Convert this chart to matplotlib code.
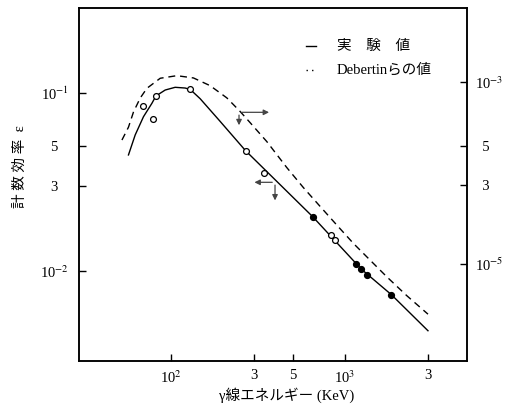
import matplotlib
matplotlib.use("Agg")
import matplotlib.pyplot as plt

plt.rcParams['font.family'] = ['Liberation Serif', 'Noto Sans CJK JP', 'DejaVu Sans']
plt.rcParams['mathtext.fontset'] = 'stix'

# 実験値 (solid curve, left axis)
exp_E = [56.8, 62.1, 69.3, 77.5, 81.7, 92.4, 105.4, 120.4, 129.1, 146.8, 190, 268, 652, 1241, 1849, 3000]
exp_eff = [0.0447, 0.0579, 0.0733, 0.0872, 0.0958, 0.1035, 0.1072, 0.1062, 0.1040, 0.0925, 0.0695,
           0.0472, 0.0201, 0.0102, 0.00733, 0.0046]

# Debertinらの値 (dashed curve, right axis)
deb_E = [52.1, 56.8, 60.7, 66.4, 72.5, 86.5, 107.8, 134.3, 167.5, 209, 249, 284, 355, 462, 576,
         718, 896, 1116, 1392, 1737, 2262, 3000]
deb_eff = [0.0542, 0.0640, 0.0779, 0.0934, 0.1058, 0.1205, 0.1246, 0.1210, 0.1095, 0.0935, 0.0785,
           0.0680, 0.0531, 0.0380, 0.0293, 0.0230, 0.01806, 0.01425, 0.01148, 0.00925, 0.00725, 0.0057]

# 測定点
open_E = [68.8, 78.1, 81.6, 129, 268, 342, 828, 880]
open_eff = [0.0842, 0.0709, 0.0958, 0.1045, 0.0472, 0.0355, 0.0158, 0.01486]
fill_E = [652, 1157, 1241, 1333, 1849]
fill_eff = [0.0201, 0.01086, 0.01018, 0.0095, 0.00733]

x_ticks = [100, 300, 500, 1000, 3000]
x_labels = ['10$^2$', '3', '5', '10$^3$', '3']
left_ticks = [0.1, 0.05, 0.03, 0.01]
left_labels = ['10$^{-1}$', '5   ', '3   ', '10$^{-2}$']
right_ticks = [0.1144, 0.0504, 0.0302, 0.0109]
right_labels = ['10$^{-3}$', '  5', '  3', '10$^{-5}$']

fig = plt.figure(figsize=(5.08, 4.16), dpi=100)
ax = fig.add_axes([79 / 508, 55 / 416, 388 / 508, 353 / 416])

ax.plot(exp_E, exp_eff, color='black', lw=1.0)
ax.plot(deb_E, deb_eff, color='black', lw=1.0, linestyle=(0, (5, 3.5)))
ax.plot(open_E, open_eff, 'o', ms=4.2, mfc='white', mec='black', mew=0.9)
ax.plot(fill_E, fill_eff, 'o', ms=4.2, mfc='black', mec='black')

ax.set_xscale('log')
ax.set_yscale('log')
ax.set_xlim(29.5, 5030)
ax.set_ylim(0.00311, 0.299)
ax.minorticks_off()

ax.set_xticks(x_ticks)
ax.set_xticklabels(x_labels)
ax.set_yticks(left_ticks)
ax.set_yticklabels(left_labels)
ax.tick_params(direction='in', length=5, width=1, labelsize=10.5, pad=7)
ax.tick_params(axis='x', pad=6)

ax2 = ax.twinx()
ax2.set_yscale('log')
ax2.set_ylim(ax.get_ylim())
ax2.minorticks_off()
ax2.set_yticks(right_ticks)
ax2.set_yticklabels(right_labels)
ax2.tick_params(direction='in', length=5, width=1, labelsize=10.5, pad=6)

for a in (ax, ax2):
    for s in a.spines.values():
        s.set_linewidth(1.1)

# 軸を示す矢印
akw = dict(arrowstyle='-|>', color='#444444', lw=0.9, mutation_scale=8)
ax.annotate('', xy=(0.497, 0.7045), xytext=(0.4124, 0.7045), xycoords='axes fraction', arrowprops=akw)
ax.annotate('', xy=(0.4124, 0.660), xytext=(0.4124, 0.7045), xycoords='axes fraction', arrowprops=akw)
ax.annotate('', xy=(0.445, 0.5062), xytext=(0.5052, 0.5062), xycoords='axes fraction', arrowprops=akw)
ax.annotate('', xy=(0.5052, 0.447), xytext=(0.5052, 0.5062), xycoords='axes fraction', arrowprops=akw)

# 凡例
ax.plot([0.585, 0.612], [0.892, 0.892], transform=ax.transAxes, color='black', lw=1.0)
ax.plot([0.585, 0.612], [0.825, 0.825], transform=ax.transAxes, color='black', lw=1.0,
        linestyle=(0, (1, 3)))
ax.text(0.665, 0.892, '実　験　値', transform=ax.transAxes, fontsize=10.5, va='center')
ax.text(0.665, 0.825, 'Debertinらの値', transform=ax.transAxes, fontsize=10.5, va='center')

fig.text(20 / 508, 1 - 167 / 416, '計 数 効 率  ε', rotation=90, fontsize=10.5,
         ha='center', va='center')
fig.text(287 / 508, 1 - 395 / 416, 'γ線エネルギー (KeV)', fontsize=10.5, ha='center', va='center')

fig.savefig('out.png', dpi=100)
